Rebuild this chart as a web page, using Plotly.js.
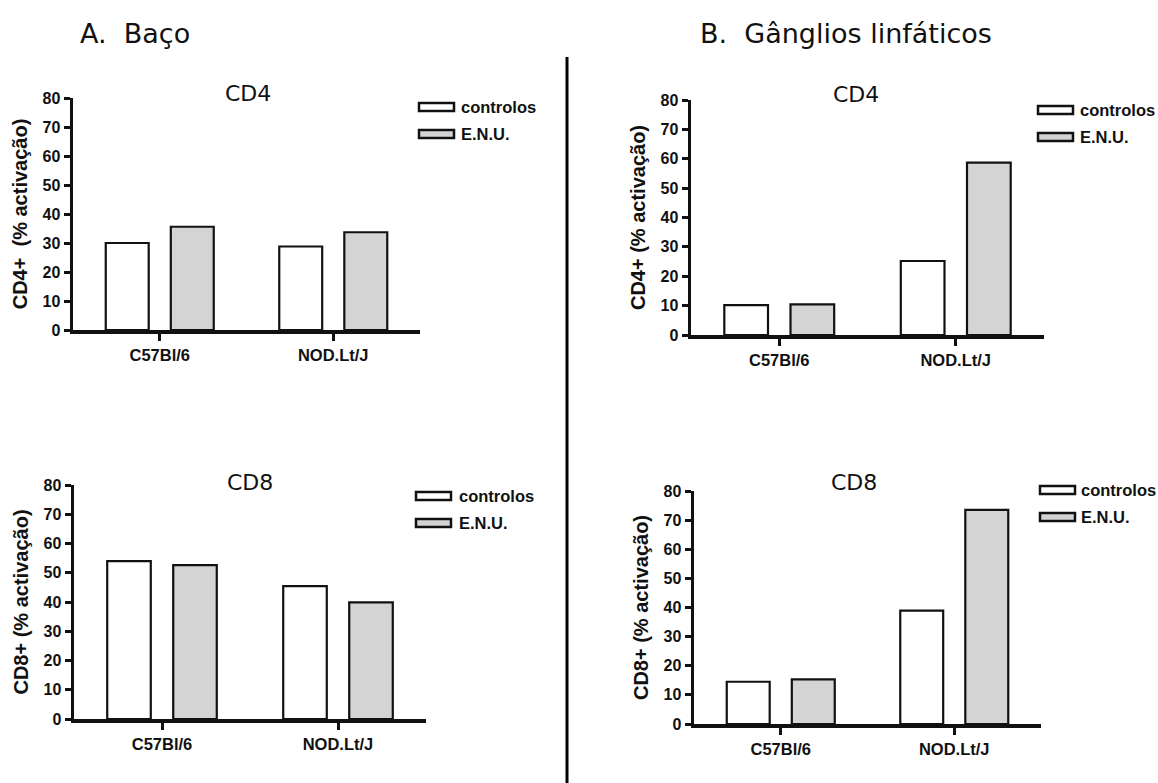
<!DOCTYPE html>
<html>
<head>
<meta charset="utf-8">
<script src="https://cdn.plot.ly/plotly-3.0.1.min.js"></script>
<style>html,body{margin:0;padding:0;background:#fff;}#chart{width:1158px;height:783px;}</style>
</head>
<body>
<div id="chart"></div>
<script>
// ---- data ----
var categories = ['C57Bl/6', 'NOD.Lt/J'];
var seriesNames = ['controlos', 'E.N.U.'];
var yTicks = [0, 10, 20, 30, 40, 50, 60, 70, 80];

var bacoCD4Controlos = [30.0, 28.8];
var bacoCD4ENU = [35.6, 33.7];
var bacoCD8Controlos = [54.0, 45.4];
var bacoCD8ENU = [52.6, 39.9];

var gangliosCD4Controlos = [10.2, 25.2];
var gangliosCD4ENU = [10.4, 58.7];
var gangliosCD8Controlos = [14.5, 38.9];
var gangliosCD8ENU = [15.3, 73.5];

var panelHeaders = ['A.\u00a0\u00a0Baço', 'B.\u00a0\u00a0Gânglios linfáticos'];
var subplotTitles = ['CD4', 'CD4', 'CD8', 'CD8'];
var yTitles = ['CD4+\u00a0\u00a0(% activação)', 'CD4+ (% activação)', 'CD8+ (% activação)', 'CD8+ (% activação)'];

// ---- styling ----
var W = 1158, H = 783;
var fillColors = ['#ffffff', '#d4d4d4'];
var edge = '#111111';
var boldFont = 'Liberation Sans, Arial, sans-serif';
function px(x) { return x / W; }
function py(y) { return 1 - y / H; }

// subplot boxes in pixel coordinates: [left, right, top(80), bottom(0)]
var boxes = [
  [73, 420, 98, 330],
  [691, 1044, 100, 335],
  [74, 426, 485, 719],
  [694, 1041, 491, 724]
];
var seriesData = [
  [bacoCD4Controlos, bacoCD4ENU],
  [gangliosCD4Controlos, gangliosCD4ENU],
  [bacoCD8Controlos, bacoCD8ENU],
  [gangliosCD8Controlos, gangliosCD8ENU]
];
var titlePos = [[248, 93], [856, 94], [250, 482], [854, 482]];
var legendPos = [[419, 107, 459], [1038, 110, 1078], [416, 496, 457], [1040, 490, 1079]];

var traces = [];
var layout = {
  width: W, height: H,
  margin: {l: 0, r: 0, t: 0, b: 0},
  paper_bgcolor: '#ffffff', plot_bgcolor: 'rgba(0,0,0,0)',
  showlegend: false,
  barmode: 'group', bargap: 0.25, bargroupgap: 0.34,
  font: {family: boldFont, color: '#111'},
  annotations: [], shapes: []
};

for (var i = 0; i < 4; i++) {
  var b = boxes[i];
  var xa = i === 0 ? 'xaxis' : 'xaxis' + (i + 1);
  var ya = i === 0 ? 'yaxis' : 'yaxis' + (i + 1);
  var xr = i === 0 ? 'x' : 'x' + (i + 1);
  var yr = i === 0 ? 'y' : 'y' + (i + 1);
  for (var s = 0; s < 2; s++) {
    traces.push({
      type: 'bar', x: categories, y: seriesData[i][s], name: seriesNames[s],
      xaxis: xr, yaxis: yr,
      marker: {color: fillColors[s], line: {color: edge, width: 2.2}},
      hoverinfo: 'x+y+name'
    });
  }
  layout[xa] = {
    domain: [px(b[0]), px(b[1])], anchor: yr, type: 'category', range: [-0.5, 1.5],
    showline: true, linewidth: 3.5, linecolor: edge, showgrid: false, zeroline: false,
    ticks: 'outside', ticklen: 7, tickwidth: 3, tickcolor: edge, ticklabelstandoff: 1,
    tickfont: {family: boldFont, size: 16.5, color: '#111', weight: 'bold'},
    fixedrange: true
  };
  layout[ya] = {
    domain: [py(b[3]), py(b[2])], anchor: xr, range: [0, 80], tickvals: yTicks,
    showline: true, linewidth: 3.5, linecolor: edge, showgrid: false, zeroline: false,
    ticks: 'outside', ticklen: 6, tickwidth: 3, tickcolor: edge,
    tickfont: {family: boldFont, size: 16, color: '#111', weight: 'bold'},
    title: {text: yTitles[i], standoff: 10,
      font: {family: boldFont, size: 20, color: '#111', weight: 'bold'}},
    fixedrange: true
  };
  // subplot title
  layout.annotations.push({
    xref: 'paper', yref: 'paper', x: px(titlePos[i][0]), y: py(titlePos[i][1]),
    xanchor: 'center', yanchor: 'middle', showarrow: false, text: subplotTitles[i],
    font: {family: 'DejaVu Sans, Verdana, sans-serif', size: 22, color: '#111'}
  });
  // custom legend
  var lp = legendPos[i];
  for (var s2 = 0; s2 < 2; s2++) {
    var cy = lp[1] + s2 * 27;
    layout.shapes.push({
      type: 'rect', xref: 'paper', yref: 'paper',
      x0: px(lp[0]), x1: px(lp[0] + 35), y0: py(cy - 4), y1: py(cy + 4),
      fillcolor: fillColors[s2], line: {color: edge, width: 2.5}
    });
    layout.annotations.push({
      xref: 'paper', yref: 'paper', x: px(lp[2]), y: py(cy),
      xanchor: 'left', yanchor: 'middle', showarrow: false, text: seriesNames[s2],
      font: {family: boldFont, size: 16.5, color: '#111', weight: 'bold'}
    });
  }
}

// panel headers
layout.annotations.push({
  xref: 'paper', yref: 'paper', x: px(78), y: py(33), xanchor: 'left', yanchor: 'middle',
  showarrow: false, text: panelHeaders[0],
  font: {family: 'DejaVu Sans, Verdana, sans-serif', size: 27, color: '#111'}
});
layout.annotations.push({
  xref: 'paper', yref: 'paper', x: px(698), y: py(33), xanchor: 'left', yanchor: 'middle',
  showarrow: false, text: panelHeaders[1],
  font: {family: 'DejaVu Sans, Verdana, sans-serif', size: 27, color: '#111'}
});
// divider
layout.shapes.push({
  type: 'line', xref: 'paper', yref: 'paper', x0: px(567), x1: px(567), y0: py(57), y1: 0,
  line: {color: '#000', width: 3}
});

Plotly.newPlot('chart', traces, layout, {displayModeBar: false, staticPlot: true});
</script>
</body>
</html>
